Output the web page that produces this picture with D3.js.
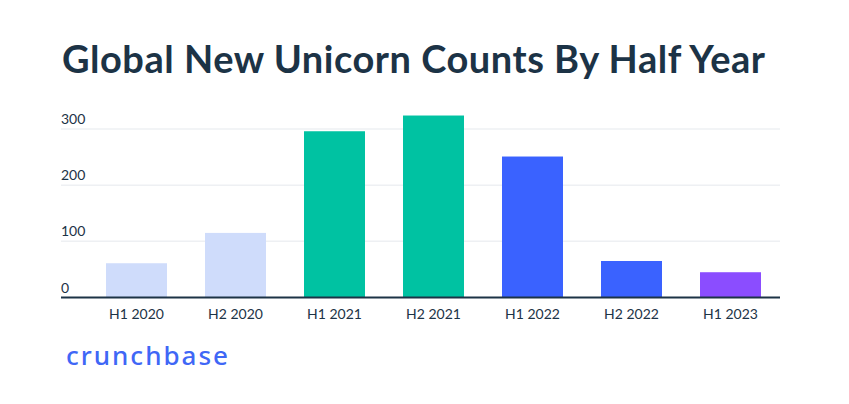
<!DOCTYPE html>
<html>
<head>
<meta charset="utf-8">
<script src="https://cdn.jsdelivr.net/npm/d3@7"></script>
<style>
  body { margin: 0; background: #fff; }
  svg { display: block; }
</style>
</head>
<body>
<svg id="chart" width="849" height="404"></svg>
<script>
const periods = ['H1 2020', 'H2 2020', 'H1 2021', 'H2 2021', 'H1 2022', 'H2 2022', 'H1 2023'];
const counts = [61, 115, 296, 324, 251, 65, 45];
const barColors = ['#cfdcfb', '#cfdcfb', '#00c2a2', '#00c2a2', '#3a62ff', '#3a62ff', '#8b4dff'];
const yTicks = [0, 100, 200, 300];

const svg = d3.select('#chart'),
      ink = '#1c3346';

const x = d3.scaleBand()
  .domain(periods)
  .range([87, 780])
  .paddingInner(0.384)
  .paddingOuter(0.192);

const y = d3.scaleLinear()
  .domain([0, 300])
  .range([297.5, 129]);

// title
const title = svg.append('text')
  .attr('x', 62)
  .attr('y', 72.5)
  .attr('fill', ink)
  .style('font-family', 'Lato, sans-serif')
  .style('font-weight', 700)
  .style('font-size', '38px')
  .text('Global New Unicorn Counts By Half Year');
// stretch to the reference width
title.attr('textLength', 703).attr('lengthAdjust', 'spacing');

// gridlines + y labels
const grid = svg.append('g');
grid.selectAll('line')
  .data(yTicks.filter(d => d > 0))
  .join('line')
  .attr('x1', 61)
  .attr('x2', 780)
  .attr('y1', d => y(d))
  .attr('y2', d => y(d))
  .attr('stroke', '#eef0f3')
  .attr('stroke-width', 1.5);

grid.selectAll('text')
  .data(yTicks)
  .join('text')
  .attr('x', 61)
  .attr('y', d => y(d) - 5)
  .attr('fill', ink)
  .style('font-family', 'Lato, sans-serif')
  .style('font-size', '14px')
  .text(d => d);

// bars
svg.append('g')
  .selectAll('rect')
  .data(counts)
  .join('rect')
  .attr('x', (d, i) => x(periods[i]))
  .attr('y', d => y(d))
  .attr('width', x.bandwidth())
  .attr('height', d => y(0) - y(d))
  .attr('fill', (d, i) => barColors[i]);

// x axis
const xAxis = svg.append('g')
  .attr('transform', 'translate(0,' + y(0) + ')')
  .call(d3.axisBottom(x).tickSize(0).tickPadding(12));
xAxis.select('.domain').remove();
xAxis.selectAll('text')
  .attr('fill', ink)
  .style('font-family', 'Lato, sans-serif')
  .style('font-size', '14px');

svg.append('line')
  .attr('x1', 61)
  .attr('x2', 780)
  .attr('y1', y(0))
  .attr('y2', y(0))
  .attr('stroke', ink)
  .attr('stroke-width', 2);

// logo
svg.append('text')
  .attr('x', 66)
  .attr('y', 364.5)
  .attr('fill', '#3f67f6')
  .style('font-family', '"Noto Sans", sans-serif')
  .style('font-weight', 500)
  .style('font-size', '26px')
  .attr('textLength', 162)
  .attr('lengthAdjust', 'spacing')
  .text('crunchbase');
</script>
</body>
</html>
